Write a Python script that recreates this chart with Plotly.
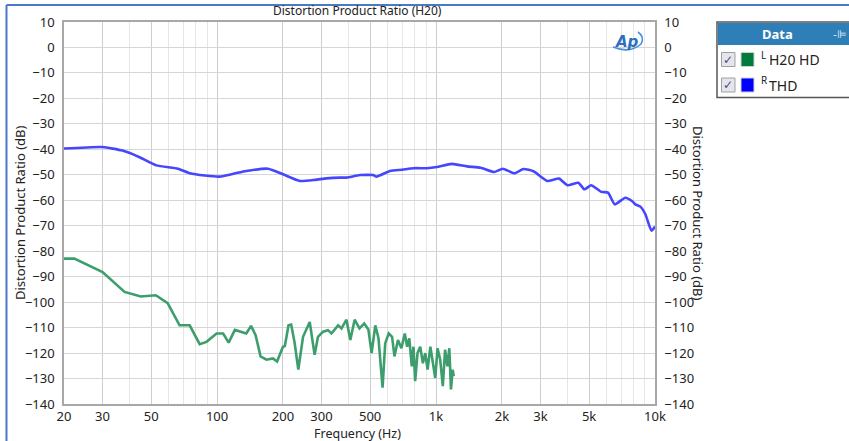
import plotly.graph_objects as go
import math

# ---------------- data ----------------
thd_freq = [20, 30, 37, 44, 52.8, 66.3, 75, 88, 102.8, 120,
            136, 171, 200, 239, 280, 316, 364, 391, 449, 517,
            535, 617, 700, 789, 910, 1009, 1181, 1386, 1600, 1842,
            2016, 2278, 2510, 2798, 3220, 3646, 3989, 4465, 4760, 5110,
            5685, 6100, 6547, 7310, 7850, 8130, 8570, 9040, 9640, 10000]
thd_db = [-39.7, -39.1, -40.5, -43, -46.3, -47.6, -49.4, -50.3, -50.7, -49.5,
          -48.5, -47.6, -49.8, -52.4, -52, -51.4, -51.1, -51.1, -50.1, -50.1,
          -50.7, -48.5, -48, -47.4, -47.4, -46.9, -45.7, -46.7, -47.2, -48.9,
          -47.6, -49.4, -47.7, -48.7, -52.4, -51.5, -54.1, -53.1, -55.7, -54.1,
          -56.7, -57, -61.6, -59, -60.3, -61.6, -62.5, -65.5, -72, -70.3]

h20_freq = [20, 22.3, 30, 37.8, 44.8, 52.5, 59.5, 67.4, 75, 83.3,
            89.5, 99.5, 106.6, 113, 120.6, 136, 143, 150, 158, 168,
            180, 188, 200, 204, 212, 218, 226, 235, 247, 265,
            279, 289, 305, 321, 333, 357, 370, 390, 406, 425,
            447, 470, 491, 508, 528, 546, 570, 586, 608, 630,
            646, 670, 695, 720, 738, 755, 775, 789, 803, 823,
            847, 871, 893, 915, 942, 969, 992, 1016, 1045, 1074,
            1100, 1127, 1150, 1170, 1191, 1205]
h20_db = [-82.9, -82.9, -88.2, -96, -97.8, -97.3, -100.4, -109.1, -109.1, -116.5,
          -115.6, -112.3, -112.3, -115.9, -110.9, -112.3, -109.3, -113, -121.3, -122.6,
          -122.1, -123.3, -117.5, -117.2, -109.1, -108.8, -115.9, -126.5, -113.6, -107.8,
          -120.7, -113.6, -111.6, -111, -112.3, -109.1, -110.3, -106.9, -114.9, -106.9,
          -110.3, -108.4, -110.7, -120, -109.1, -114.2, -133.6, -116.2, -112.3, -113.6,
          -121.3, -114.9, -118.1, -112.3, -117.5, -114.2, -125.2, -117.5, -131, -120,
          -117.5, -124, -120, -126.5, -117.5, -124, -129.8, -118.1, -122.6, -133,
          -118.7, -125.2, -118.1, -134.3, -126.5, -129.1]

x_tickvals = [20, 30, 50, 100, 200, 300, 500, 1000, 2000, 3000, 5000, 10000]
x_ticktext = ["20", "30", "50", "100", "200", "300", "500", "1k", "2k", "3k", "5k", "10k"]
x_minor = [40, 60, 70, 80, 90, 400, 600, 700, 800, 900, 4000, 6000, 7000, 8000, 9000]
y_tickvals = list(range(-140, 11, 10))

title_text = "Distortion Product Ratio (H20)"
y_title = "Distortion Product Ratio (dB)"
x_title = "Frequency (Hz)"
legend_channels = ["L", "R"]
legend_names = ["H20 HD", "THD"]

# ---------------- layout helpers ----------------
W, H = 849, 441
L, R, T, B = 64, 194, 22, 37
PW, PH = W - L - R, H - T - B

def px(x):
    return (x - L) / PW

def py(y):
    return (H - B - y) / PH

FONT = "Noto Sans"
TXT = "#222222"

fig = go.Figure()
fig.add_trace(go.Scatter(x=h20_freq, y=h20_db, mode="lines", name="H20 HD",
                         line=dict(color="rgb(60,158,108)", width=2.6), yaxis="y"))
fig.add_trace(go.Scatter(x=thd_freq, y=thd_db, mode="lines", name="THD",
                         line=dict(color="rgb(70,70,255)", width=2.6, shape="spline", smoothing=0.5),
                         yaxis="y2"))

axis_common = dict(showline=True, linecolor="#a8a8a8", linewidth=1.5, ticks="",
                   tickfont=dict(family=FONT, size=13, color=TXT), zeroline=False)

fig.update_layout(
    width=W, height=H,
    margin=dict(l=L, r=R, t=T, b=B),
    paper_bgcolor="white", plot_bgcolor="white",
    showlegend=False,
    xaxis=dict(type="log", range=[math.log10(20), math.log10(10000)],
               tickvals=x_tickvals, ticktext=x_ticktext,
               showgrid=True, gridcolor="#cdcdcd", gridwidth=1.2,
               minor=dict(tickvals=x_minor, showgrid=True, gridcolor="#e6e6e6", gridwidth=1),
               mirror=True, ticklabelstandoff=0, **axis_common),
    yaxis=dict(range=[-140, 10], tickvals=y_tickvals, showgrid=True,
               gridcolor="#d6d6d6", gridwidth=1.2, ticklabelstandoff=5,
               mirror=True, **axis_common),
    yaxis2=dict(range=[-140, 10], tickvals=y_tickvals, overlaying="y", side="right",
                showgrid=False, ticklabelstandoff=5, **axis_common),
)

ann = []

def add_text(x, y, text, size=13, color=TXT, family=FONT, xanchor="center", angle=0):
    ann.append(dict(x=px(x), y=py(y), xref="paper", yref="paper", text=text,
                    xanchor=xanchor, yanchor="middle", textangle=angle, showarrow=False,
                    font=dict(family=family, size=size, color=color)))

add_text(357, 11, title_text, size=12)
add_text(357, 433.5, x_title, size=12.5)
add_text(20, 213, y_title, size=13, angle=-90)
add_text(698, 213, y_title, size=13, angle=90)
add_text(627, 42, "<b><i>Ap</i></b>", size=15, color="#2d6fbf", family="DejaVu Sans")

shapes = []
# outer blue frame
shapes.append(dict(type="line", xref="paper", yref="paper", x0=px(6.5), x1=px(849),
                   y0=py(5), y1=py(5), line=dict(color="#4a79c9", width=2)))
shapes.append(dict(type="line", xref="paper", yref="paper", x0=px(6.5), x1=px(6.5),
                   y0=py(5), y1=py(441), line=dict(color="#4a79c9", width=2)))
# AP logo swoosh
shapes.append(dict(type="path", xref="paper", yref="paper",
                   path=f"M {px(613)},{py(47)} Q {px(630)},{py(54)} {px(641)},{py(44)} Q {px(645)},{py(37)} {px(638)},{py(32)}",
                   line=dict(color="#4f8fd6", width=1.6)))

# legend box
shapes.append(dict(type="rect", xref="paper", yref="paper", x0=px(717), x1=px(851),
                   y0=py(22), y1=py(97.5), line=dict(color="#555555", width=1.5), fillcolor="white",
                   layer="below"))
shapes.append(dict(type="rect", xref="paper", yref="paper", x0=px(718), x1=px(851),
                   y0=py(23), y1=py(45), line=dict(width=0), fillcolor="rgb(46,126,184)"))
add_text(777, 34, "<b>Data</b>", size=13, color="white")
add_text(849, 34, "-⊫", size=11, color="#dfe9f5", family="DejaVu Sans", xanchor="right")

row_y = [59.5, 85]
sw_colors = ["rgb(0,122,61)", "rgb(0,0,255)"]
for i, yy in enumerate(row_y):
    shapes.append(dict(type="rect", xref="paper", yref="paper", x0=px(721.5), x1=px(735),
                       y0=py(yy - 7), y1=py(yy + 7), line=dict(color="#a0a0a0", width=1),
                       fillcolor="#e4e4ea"))
    add_text(728.3, yy, "✓", size=12, color="#3a4a8a", family="DejaVu Sans")
    shapes.append(dict(type="rect", xref="paper", yref="paper", x0=px(741), x1=px(754),
                       y0=py(yy - 7), y1=py(yy + 7), line=dict(color="#d0d0d0", width=1),
                       fillcolor=sw_colors[i]))
    add_text(759, yy - 5, legend_channels[i], size=10, xanchor="left")
    add_text(767, yy, legend_names[i], size=14, xanchor="left")

fig.update_layout(annotations=ann, shapes=shapes)
fig.write_html("out.html", config={"displayModeBar": False},
               post_script="document.body.style.margin='0';document.body.style.overflow='hidden';")
